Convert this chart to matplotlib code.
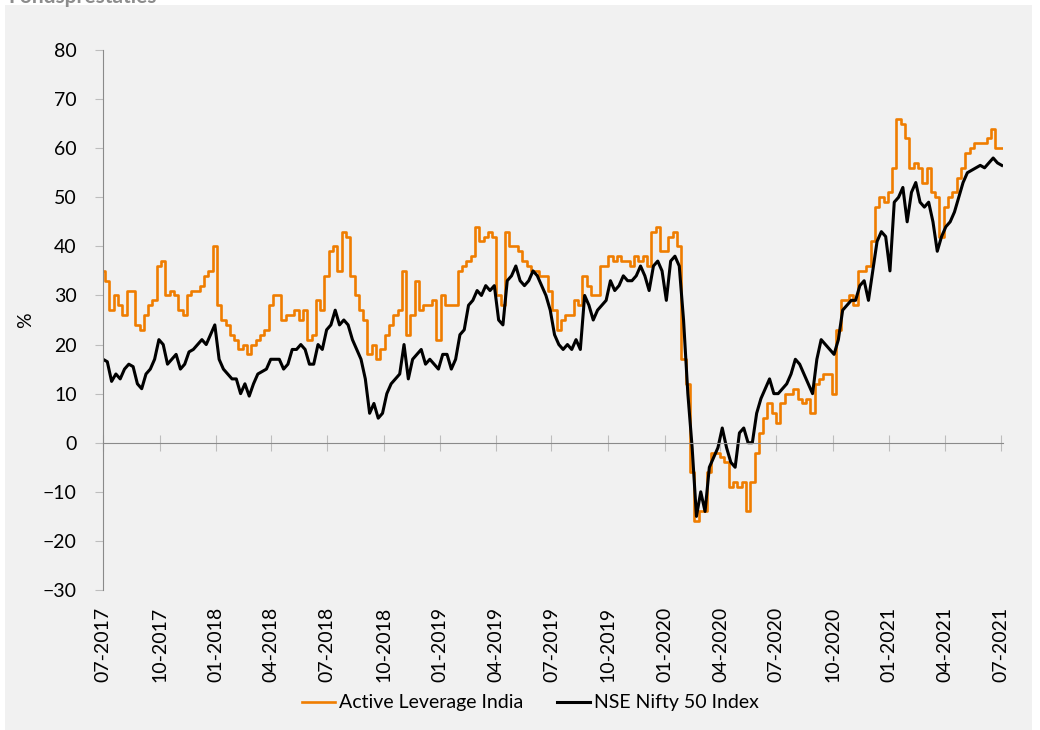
import matplotlib
matplotlib.use('Agg')
import matplotlib.pyplot as plt
import matplotlib.dates as mdates
from matplotlib.patches import Rectangle
import pandas as pd

# weekly readings, 07-2017 .. 07-2021 (%)
dates = pd.date_range('2017-07-01', periods=210, freq='7D')

active_leverage = [
    35, 33, 27, 30, 28, 26, 31, 31, 24, 23,
    26, 28, 29, 36, 37, 30, 31, 30, 27, 26,
    30, 31, 31, 32, 34, 35, 40, 28, 25, 24,
    22, 21, 19, 20, 18, 20, 21, 22, 23, 28,
    30, 30, 25, 26, 26, 27, 25, 27, 21, 22,
    29, 27, 34, 39, 40, 35, 43, 42, 34, 30,
    27, 25, 18, 20, 17, 19, 22, 24, 26, 27,
    35, 22, 26, 33, 27, 28, 28, 29, 21, 30,
    28, 28, 28, 35, 36, 37, 38, 44, 41, 42,
    43, 42, 30, 28, 43, 40, 40, 39, 37, 36,
    35, 35, 34, 34, 31, 27, 23, 25, 26, 26,
    29, 28, 34, 32, 30, 30, 36, 36, 38, 37,
    38, 37, 37, 36, 38, 37, 38, 36, 43, 44,
    39, 39, 42, 43, 40, 17, 12, -6, -16, -14,
    -14, -6, -2, -2, -3, -4, -9, -8, -9, -8,
    -14, -8, -2, 2, 5, 8, 6, 4, 8, 10,
    10, 11, 9, 8, 9, 6, 12, 13, 14, 14,
    10, 23, 29, 29, 30, 28, 35, 35, 36, 41,
    48, 50, 49, 51, 56, 66, 65, 62, 56, 57,
    56, 53, 56, 51, 50, 42, 48, 50, 51, 54,
    56, 59, 60, 61, 61, 61, 62, 64, 60, 60,
]

nifty50 = [
    17, 16.5, 12.5, 14, 13, 15, 16, 15.5, 12, 11,
    14, 15, 17, 21, 20, 16, 17, 18, 15, 16,
    18.5, 19, 20, 21, 20, 22, 24, 17, 15, 14,
    13, 13, 10, 12, 9.5, 12, 14, 14.5, 15, 17,
    17, 17, 15, 16, 19, 19, 20, 19, 16, 16,
    20, 19, 23, 24, 27, 24, 25, 24, 21, 19,
    17, 13, 6, 8, 5, 6, 10, 12, 13, 14,
    20, 13, 17, 18, 19, 16, 17, 16, 15, 18,
    18, 15, 17, 22, 23, 28, 29, 31, 30, 32,
    31, 32, 25, 24, 33, 34, 36, 33, 32, 33,
    35, 34, 32, 30, 27, 22, 20, 19, 20, 19,
    21, 19, 30, 28, 25, 27, 28, 29, 33, 31,
    32, 34, 33, 33, 34, 36, 34, 31, 36, 37,
    35, 29, 37, 38, 36, 25, 10, -1, -15, -10,
    -14, -5, -3, -1, 3, -1, -4, -5, 2, 3,
    0, 0, 6, 9, 11, 13, 10, 10, 11, 12,
    14, 17, 16, 14, 12, 10, 17, 21, 20, 19,
    18, 21, 27, 28, 29, 29, 32, 33, 29, 35,
    41, 43, 42, 35, 49, 50, 52, 45, 51, 53,
    49, 48, 49, 45, 39, 42, 44, 45, 47, 50,
    53, 55, 55.5, 56, 56.5, 56, 57, 58, 57, 56.5,
]

tick_dates = pd.date_range('2017-07-01', '2021-07-01', freq='3MS')

fig = plt.figure(figsize=(10.4, 7.3), dpi=100, facecolor='white')
fig.patches.append(Rectangle((5 / 1040, 0), 1027 / 1040, 1 - 5 / 730,
                             transform=fig.transFigure, facecolor='#f1f1f1',
                             edgecolor='none', zorder=-5))
fig.text(8 / 1040, 1 - 3 / 730, 'Fondsprestaties', fontsize=15, fontweight='bold',
         color='#8c8c8c', va='baseline', family='Lato')

ax = fig.add_axes([103 / 1040, 140 / 730, 900 / 1040, 540 / 730])
ax.set_facecolor('none')

ax.plot(dates, active_leverage, color='#ef7d00', lw=1.9, drawstyle='steps-mid',
        label='Active Leverage India')
ax.plot(dates, nifty50, color='black', lw=2.2, label='NSE Nifty 50 Index')

ax.set_ylim(-30, 80)
ax.set_yticks(range(-30, 81, 10))
ax.set_xlim(pd.Timestamp('2017-07-01'), pd.Timestamp('2021-07-05'))

for s in ['top', 'right']:
    ax.spines[s].set_visible(False)
ax.spines['left'].set_color('#8a8a8a')
ax.spines['bottom'].set_position(('data', 0))
ax.spines['bottom'].set_color('#8a8a8a')

ax.set_xticks(tick_dates)
ax.tick_params(axis='x', direction='inout', length=11, color='#bdbdbd', labelbottom=False)
ax.tick_params(axis='y', length=6, color='#bdbdbd', pad=13, labelsize=14)
for t in ax.get_yticklabels():
    t.set_family('Lato')

sec = ax.secondary_xaxis('bottom')
sec.set_xticks(tick_dates)
sec.xaxis.set_major_formatter(mdates.DateFormatter('%m-%Y'))
sec.tick_params(length=0, pad=12, labelsize=14, labelrotation=90)
for t in sec.get_xticklabels():
    t.set_family('Lato')
sec.spines['bottom'].set_visible(False)

ax.set_ylabel('%', fontsize=14, family='Lato')
ax.yaxis.set_label_coords(-0.076, 0.5)

fig.legend(loc='center', bbox_to_anchor=(0.51, 0.037), ncol=2, frameon=False,
           prop={'family': 'Lato', 'size': 14}, handlelength=1.7, handletextpad=0.2,
           columnspacing=1.7)

fig.savefig('out.png', dpi=100, facecolor=fig.get_facecolor())
